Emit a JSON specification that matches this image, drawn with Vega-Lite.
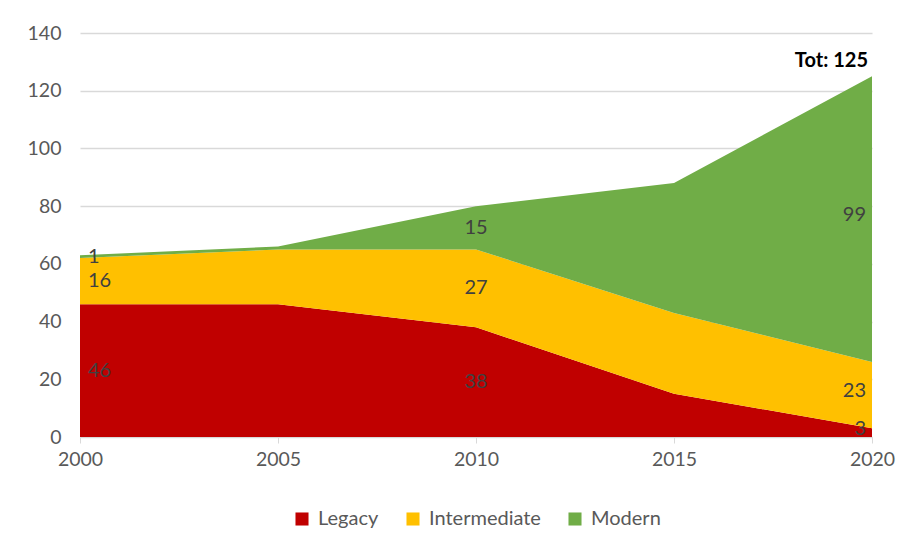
{
  "$schema": "https://vega.github.io/schema/vega-lite/v6.json",
  "width": 792,
  "height": 404,
  "autosize": "none",
  "padding": {"left": 80, "top": 33, "right": 45, "bottom": 117},
  "background": "white",
  "config": {
    "view": {"stroke": null},
    "font": "Lato",
    "axis": {"labelFont": "Lato", "labelFontSize": 19.5, "labelColor": "#595959"},
    "legend": {
      "labelFont": "Lato", "labelFontSize": 20, "labelColor": "#595959",
      "layout": {"bottom": {"anchor": "middle"}}
    }
  },
  "data": {
    "values": [
      {"year": 2000, "series": "Legacy", "value": 46},
      {"year": 2000, "series": "Intermediate", "value": 16},
      {"year": 2000, "series": "Modern", "value": 1},
      {"year": 2005, "series": "Legacy", "value": 46},
      {"year": 2005, "series": "Intermediate", "value": 19},
      {"year": 2005, "series": "Modern", "value": 1},
      {"year": 2010, "series": "Legacy", "value": 38},
      {"year": 2010, "series": "Intermediate", "value": 27},
      {"year": 2010, "series": "Modern", "value": 15},
      {"year": 2015, "series": "Legacy", "value": 15},
      {"year": 2015, "series": "Intermediate", "value": 28},
      {"year": 2015, "series": "Modern", "value": 45},
      {"year": 2020, "series": "Legacy", "value": 3},
      {"year": 2020, "series": "Intermediate", "value": 23},
      {"year": 2020, "series": "Modern", "value": 99}
    ]
  },
  "transform": [
    {"calculate": "indexof(['Legacy','Intermediate','Modern'], datum.series)", "as": "layer"},
    {"stack": "value", "groupby": ["year"], "sort": [{"field": "layer", "order": "ascending"}], "as": ["y0", "y1"]},
    {"calculate": "(datum.y0 + datum.y1) / 2", "as": "mid"}
  ],
  "layer": [
    {
      "mark": {"type": "area", "opacity": 1},
      "encoding": {
        "x": {
          "field": "year", "type": "quantitative",
          "scale": {"domain": [2000, 2020], "nice": false, "zero": false},
          "axis": {
            "title": null, "values": [2000, 2005, 2010, 2015, 2020], "format": "d",
            "grid": false, "domainColor": "#D9D9D9", "tickColor": "#D9D9D9",
            "tickSize": 6, "labelPadding": 7, "labelFlush": false, "labelOverlap": false
          }
        },
        "y": {
          "field": "y1", "type": "quantitative",
          "scale": {"domain": [0, 140], "nice": false},
          "axis": {
            "title": null, "values": [0, 20, 40, 60, 80, 100, 120, 140],
            "domain": false, "ticks": false, "labelPadding": 19,
            "gridColor": "#D9D9D9", "gridWidth": 1.3
          }
        },
        "y2": {"field": "y0"},
        "color": {
          "field": "series", "type": "nominal",
          "scale": {"domain": ["Legacy", "Intermediate", "Modern"], "range": ["#C00000", "#FFC000", "#70AD47"]},
          "legend": {
            "title": null, "orient": "bottom", "direction": "horizontal",
            "symbolType": "square", "symbolSize": 170, "symbolStrokeWidth": 0,
            "symbolOpacity": 1, "columnPadding": 24, "labelOffset": 6, "offset": 40
          }
        },
        "order": {"field": "layer"}
      }
    },
    {
      "transform": [{"filter": "datum.year == 2000"}],
      "mark": {"type": "text", "align": "left", "dx": 8, "fontSize": 20, "color": "#404040", "baseline": "middle"},
      "encoding": {
        "x": {"field": "year", "type": "quantitative"},
        "y": {"field": "mid", "type": "quantitative"},
        "text": {"field": "value", "type": "quantitative"}
      }
    },
    {
      "transform": [{"filter": "datum.year == 2010"}],
      "mark": {"type": "text", "align": "center", "fontSize": 20, "color": "#404040", "baseline": "middle"},
      "encoding": {
        "x": {"field": "year", "type": "quantitative"},
        "y": {"field": "mid", "type": "quantitative"},
        "text": {"field": "value", "type": "quantitative"}
      }
    },
    {
      "transform": [{"filter": "datum.year == 2020"}],
      "mark": {"type": "text", "align": "right", "dx": -6, "dy": -4, "fontSize": 20, "color": "#404040", "baseline": "middle"},
      "encoding": {
        "x": {"field": "year", "type": "quantitative"},
        "y": {"field": "mid", "type": "quantitative"},
        "text": {"field": "value", "type": "quantitative"}
      }
    },
    {
      "transform": [{"filter": "datum.year == 2020 && datum.series == 'Modern'"}],
      "mark": {"type": "text", "align": "right", "baseline": "bottom", "dx": -4, "dy": -5, "fontSize": 20, "fontWeight": "bold", "color": "#000000"},
      "encoding": {
        "x": {"field": "year", "type": "quantitative"},
        "y": {"field": "y1", "type": "quantitative"},
        "text": {"value": "Tot: 125"}
      }
    }
  ]
}
